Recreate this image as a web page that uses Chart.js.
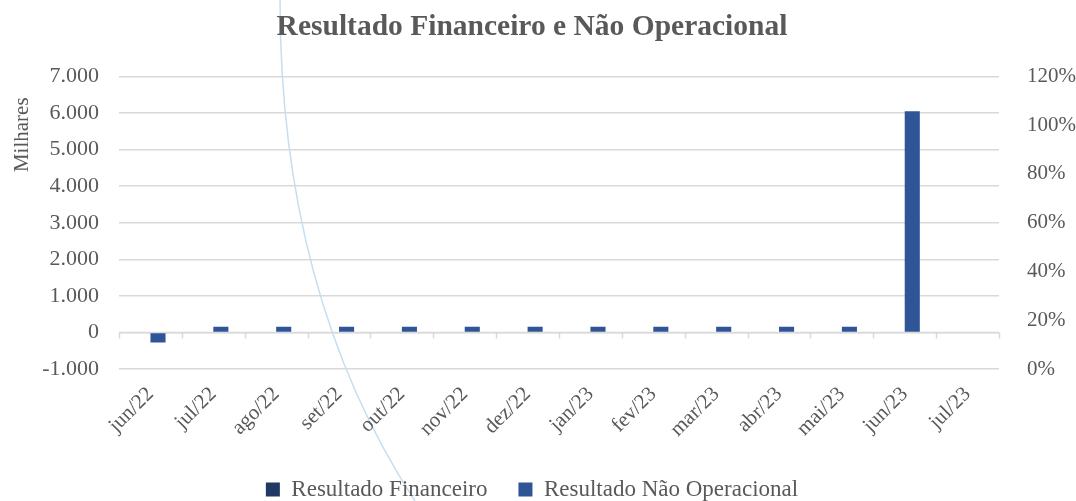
<!DOCTYPE html>
<html>
<head>
<meta charset="utf-8">
<script src="https://cdn.jsdelivr.net/npm/chart.js@4/dist/chart.umd.min.js"></script>
<style>
  html, body { margin: 0; padding: 0; background: #fff; }
  #wrap { width: 1076px; height: 501px; }
</style>
</head>
<body>
<div id="wrap"><canvas id="grafico" width="1076" height="501"></canvas></div>
<script>
// Dados do gráfico (milhares)
const categorias = ['jun/22', 'jul/22', 'ago/22', 'set/22', 'out/22', 'nov/22', 'dez/22',
                    'jan/23', 'fev/23', 'mar/23', 'abr/23', 'mai/23', 'jun/23', 'jul/23'];
const resultadoFinanceiro = [0, 0, 0, 0, 0, 0, 0, 0, 0, 0, 0, 0, 0, 0];
const resultadoNaoOperacional = [-270, 160, 160, 160, 160, 160, 160, 160, 160, 160, 160, 160, 6050, 0];

// Escalas
const eixoEsqMin = -1000, eixoEsqMax = 7000, eixoEsqPasso = 1000;
const eixoDirMin = 0, eixoDirMax = 1.2, eixoDirPasso = 0.2;

const corTexto = '#595959';
const corGrade = '#d9d9d9';
const fonte = "'Liberation Serif', 'DejaVu Serif', serif";

// Formato pt-BR : 7.000
function milhar(v) {
    let s = Math.abs(Math.round(v)).toString().replace(/\B(?=(\d{3})+(?!\d))/g, '.');
    return (v < 0 ? '-' : '') + s;
}

// Eixo horizontal no zero, com marcas entre as categorias
const eixoZero = {
    id: 'eixoZero',
    beforeDatasetsDraw(chart) {
        const ctx = chart.ctx;
        const x = chart.scales.x;
        const y0 = chart.scales.y.getPixelForValue(0);
        const larg = (x.right - x.left) / categorias.length;
        ctx.save();
        ctx.strokeStyle = corGrade;
        ctx.lineWidth = 1.5;
        ctx.beginPath();
        ctx.moveTo(x.left, y0);
        ctx.lineTo(x.right, y0);
        for (let i = 0; i <= categorias.length; i++) {
            const px = Math.round(x.left + i * larg) + 0.5;
            ctx.moveTo(px, y0);
            ctx.lineTo(px, y0 + 6);
        }
        ctx.stroke();
        ctx.restore();
    }
};

// Arco decorativo do fundo (não é dado)
const arcoFundo = {
    id: 'arcoFundo',
    beforeDraw(chart) {
        const ctx = chart.ctx;
        ctx.save();
        ctx.strokeStyle = '#c5dff0';
        ctx.lineWidth = 1.5;
        ctx.beginPath();
        ctx.moveTo(280, 0);
        ctx.bezierCurveTo(280, 180, 317, 351, 415, 501);
        ctx.stroke();
        ctx.restore();
    }
};

new Chart(document.getElementById('grafico'), {
    type: 'bar',
    data: {
        labels: categorias,
        datasets: [{
            label: 'Resultado Financeiro',
            data: resultadoFinanceiro,
            backgroundColor: '#203864',
            yAxisID: 'y'
        }, {
            label: 'Resultado Não Operacional',
            data: resultadoNaoOperacional,
            backgroundColor: '#2F5597',
            yAxisID: 'y'
        }]
    },
    options: {
        responsive: false,
        animation: false,
        layout: { padding: { left: -32, right: -20, top: 0, bottom: -10 } },
        datasets: {
            bar: { categoryPercentage: 0.48, barPercentage: 1.0 }
        },
        plugins: {
            title: {
                display: true,
                text: 'Resultado Financeiro e Não Operacional',
                color: corTexto,
                font: { family: fonte, size: 29.5, weight: 'bold' },
                padding: { top: 10, bottom: 31 }
            },
            legend: {
                position: 'bottom',
                labels: {
                    color: corTexto,
                    font: { family: fonte, size: 23 },
                    boxWidth: 14,
                    boxHeight: 14,
                    padding: 31
                }
            },
            tooltip: { enabled: false }
        },
        scales: {
            x: {
                grid: { display: false },
                border: { display: false },
                afterFit(scale) {
                    // sem recuo extra para os rótulos inclinados
                    scale.paddingLeft = 0;
                    scale.paddingRight = 0;
                },
                ticks: {
                    color: corTexto,
                    font: { family: fonte, size: 21 },
                    minRotation: 45,
                    maxRotation: 45,
                    padding: 5
                }
            },
            y: {
                position: 'left',
                min: eixoEsqMin,
                max: eixoEsqMax,
                grid: { color: corGrade, lineWidth: 1.5, drawTicks: false },
                border: { display: false },
                title: {
                    display: true,
                    text: 'Milhares\u00A0\u00A0\u00A0\u00A0',
                    align: 'end',
                    color: corTexto,
                    font: { family: fonte, size: 21 },
                    padding: { top: 42, bottom: -13 }
                },
                ticks: {
                    stepSize: eixoEsqPasso,
                    color: corTexto,
                    font: { family: fonte, size: 22 },
                    padding: 20,
                    callback: v => milhar(v)
                }
            },
            y1: {
                position: 'right',
                min: eixoDirMin,
                max: eixoDirMax,
                grid: { display: false },
                border: { display: false },
                ticks: {
                    stepSize: eixoDirPasso,
                    color: corTexto,
                    font: { family: fonte, size: 21 },
                    padding: 20,
                    callback: v => Math.round(v * 100) + '%'
                }
            }
        }
    },
    plugins: [arcoFundo, eixoZero]
});
</script>
</body>
</html>
